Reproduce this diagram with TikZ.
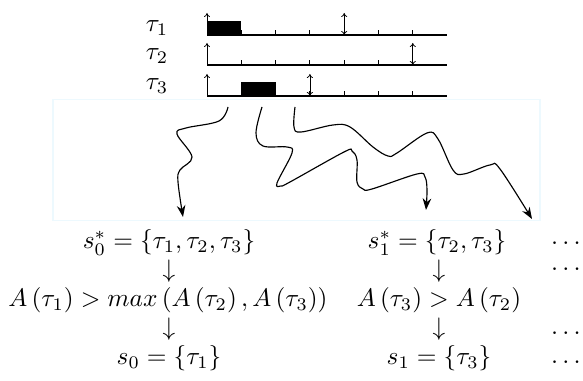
\documentclass[tikz,border=0pt]{standalone}
\usetikzlibrary{arrows.meta}
\begin{document}
\begin{tikzpicture}[x=0.395pt,y=-0.395pt,
  axisline/.style={line width=0.6pt},
  tickline/.style={line width=0.4pt},
  jobbox/.style={fill=black},
  release/.style={-{To[length=1.6pt,width=2.4pt]}, line width=0.3pt},
  deadline/.style={{To[length=1.6pt,width=2.4pt]}-{To[length=1.6pt,width=2.4pt]}, line width=0.3pt},
  wiggle/.style={-{Stealth[length=4.6pt,width=3.4pt,inset=1.5pt]}, line width=0.45pt},
  tasklabel/.style={inner sep=0pt},
  cell/.style={inner sep=0pt, anchor=base},
]
\useasboundingbox (0,0) rectangle (583,381);
\draw[cyan!7, line width=0.4pt] (53,100) rectangle (540,221);

% task labels
\node[tasklabel] (t1) at (157,28) {$\tau_1$};
\node[tasklabel] (t2) at (157,56) {$\tau_2$};
\node[tasklabel] (t3) at (157,86) {$\tau_3$};

% time axes
\foreach \y/\n/\w in {35/1/0.6pt,65/2/0.95pt,96/3/0.6pt} {
  \coordinate (o\n) at (207,\y);
  \coordinate (e\n) at (447,\y);
  \draw[axisline, line width=\w] (o\n) -- (e\n);
  \foreach \k in {1,...,6} \draw[tickline] (207+34.3*\k,\y) -- ++(0,-5);
}
% jobs
\fill[jobbox] (207,21) rectangle (241.3,35);
\fill[jobbox] (241.3,82) rectangle (275.6,96);
% releases and deadlines
\draw[release] (207,35) -- (207,13);
\draw[deadline] (344.2,35) -- (344.2,13);
\draw[release] (207,65) -- (207,43);
\draw[deadline] (412.8,65) -- (412.8,43);
\draw[release] (207,96) -- (207,74);
\draw[deadline] (309.9,96) -- (309.9,74);

% wiggly arrows
\draw[wiggle] plot[smooth, tension=0.6] coordinates {(228,107) (219,121) (186,128) (177,134) (192,157) (180,170) (178,182) (183,217)};
\draw[wiggle] plot[smooth, tension=0.6] coordinates {(262,107) (256,133) (263,146) (287,147) (292,153) (277,183) (281,186) (290,182) (344,152) (352,151) (357,160) (357,182) (363,189) (372,189) (417,174) (425,177) (427,190) (426,210)};
\draw[wiggle] plot[smooth, tension=0.6] coordinates {(295,107) (294,127) (301,132) (333,125) (350,127) (373,147) (388,156) (397,153) (427,133) (438,139) (453,170) (464,174) (490,165) (500,169) (532,219)};

% states
\node[cell] (s0star) at (169,249) {$s_0^*=\{\tau_1,\tau_2,\tau_3\}$};
\node[cell] (d01) at (169,278) {$\downarrow$};
\node[cell] (c0) at (168,307) {$A\left(\tau_1\right)>max\left(A\left(\tau_2\right),A\left(\tau_3\right)\right)$};
\node[cell] (d02) at (169,336) {$\downarrow$};
\node[cell] (s0) at (169,365) {$s_0=\{\tau_1\}$};

\node[cell] (s1star) at (437,249) {$s_1^*=\{\tau_2,\tau_3\}$};
\node[cell] (d11) at (439,278) {$\downarrow$};
\node[cell] (c1) at (439,307) {$A\left(\tau_3\right)>A\left(\tau_2\right)$};
\node[cell] (d12) at (439,336) {$\downarrow$};
\node[cell] (s1) at (439,365) {$s_1=\{\tau_3\}$};

\node[cell] (m1) at (566,250) {$\cdots$};
\node[cell] (m2) at (566,276) {$\cdots$};
\node[cell] (m4) at (566,340) {$\cdots$};
\node[cell] (m5) at (566,369) {$\cdots$};
\end{tikzpicture}
\end{document}
